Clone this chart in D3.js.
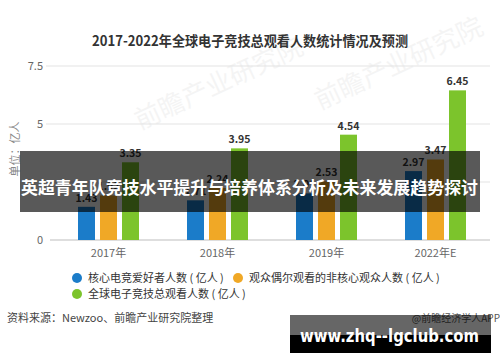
<!DOCTYPE html>
<html>
<head>
<meta charset="utf-8">
<script src="https://cdn.jsdelivr.net/npm/d3@7"></script>
<style>
body{margin:0;background:#fff;}
svg{display:block;font-family:"Noto Sans CJK SC","Noto Sans",sans-serif;}
</style>
</head>
<body>
<svg id="chart" width="500" height="362"></svg>
<script>
// data
const years = ['2017年','2018年','2019年','2022年E'];
const coreFans = [1.43, 1.71, 2.01, 2.97];
const casualViewers = [1.92, 2.24, 2.53, 3.47];
const totalViewers = [3.35, 3.95, 4.54, 6.45];
const seriesNames = ['核心电竞爱好者人数 ( 亿人 )','观众偶尔观看的非核心观众人数 ( 亿人 )','全球电子竞技总观看人数 ( 亿人 )'];
const seriesColors = ['#1b7cc9','#f0a826','#7cc42c'];
const yTicks = [0, 2.5, 5, 7.5];
const yTickText = ['0','','5','7.5'];

const svg = d3.select('#chart');
svg.append('rect').attr('width',500).attr('height',362).attr('fill','#fff');

const x = d3.scaleBand().domain(years).range([54,490]);
const y = d3.scaleLinear().domain([0,7.5]).range([240,66]);
const barW = 17, gap = 22;

svg.append('text').text('2017-2022年全球电子竞技总观看人数统计情况及预测')
  .attr('x',92).attr('y',46).attr('textLength',316).attr('lengthAdjust','spacingAndGlyphs')
  .style('font-size','14px').style('font-weight','bold').attr('fill','#333');

// faint watermark
svg.append('text').text('前瞻产业研究院').attr('transform','translate(140,130) rotate(-25)')
  .style('font-size','26px').attr('fill','#000').attr('opacity',0.04);
svg.append('text').text('前瞻产业研究院').attr('transform','translate(320,110) rotate(-25)')
  .style('font-size','26px').attr('fill','#000').attr('opacity',0.04);

// grid
svg.append('g').selectAll('line').data(yTicks.slice(1)).join('line')
  .attr('x1',46).attr('x2',490).attr('y1',d=>y(d)).attr('y2',d=>y(d))
  .attr('stroke','#e3e3e3').attr('stroke-width',1);
svg.append('line').attr('x1',50).attr('x2',490).attr('y1',y(0)).attr('y2',y(0))
  .attr('stroke','#bdbdbd').attr('stroke-width',1);

svg.append('g').selectAll('text').data(yTicks).join('text')
  .text((d,i)=>yTickText[i]).attr('x',43).attr('y',d=>y(d)+4).attr('text-anchor','end')
  .style('font-size','11px').attr('fill','#666');

svg.append('text').text('单位：亿人').attr('transform','translate(19,149) rotate(-90)')
  .attr('text-anchor','middle').style('font-size','11px').attr('fill','#888');

svg.append('g').selectAll('text').data(years).join('text')
  .text(d=>d).attr('x',d=>x(d)+x.bandwidth()/2).attr('y',257).attr('text-anchor','middle')
  .style('font-size','11px').attr('fill','#666');

const series = [coreFans, casualViewers, totalViewers];
series.forEach((vals,s)=>{
  const g = svg.append('g');
  g.selectAll('rect').data(vals).join('rect')
    .attr('x',(d,i)=>x(years[i])+x.bandwidth()/2 - barW/2 + (s-1)*gap)
    .attr('y',d=>y(d)).attr('width',barW).attr('height',d=>y(0)-y(d))
    .attr('fill',seriesColors[s]);
  g.selectAll('text').data(vals).join('text')
    .text(d=>d.toFixed(2))
    .attr('x',(d,i)=>x(years[i])+x.bandwidth()/2 + (s-1)*gap)
    .attr('y',d=>y(d)-5).attr('text-anchor','middle')
    .style('font-size','10.5px').style('font-weight','bold').attr('fill','#333');
});

// legend
const legendPos = [[77,278],[238,278],[77,294]];
seriesNames.forEach((name,i)=>{
  svg.append('circle').attr('cx',legendPos[i][0]).attr('cy',legendPos[i][1]).attr('r',5).attr('fill',seriesColors[i]);
  svg.append('text').text(name).attr('x',legendPos[i][0]+11).attr('y',legendPos[i][1]+4)
    .style('font-size','11px').attr('fill','#333');
});

svg.append('text').text('资料来源：Newzoo、前瞻产业研究院整理').attr('x',7).attr('y',322)
  .style('font-size','11px').attr('fill','#444');
svg.append('text').text('@前瞻经济学人APP').attr('x',500).attr('y',322).attr('text-anchor','end')
  .style('font-size','10px').attr('fill','#555');

// overlay banners
svg.append('rect').attr('x',20).attr('y',151).attr('width',460).attr('height',61)
  .attr('fill','#000').attr('opacity',0.65);
svg.append('text').text('英超青年队竞技水平提升与培养体系分析及未来发展趋势探讨')
  .attr('x',21).attr('y',194).attr('textLength',457).attr('lengthAdjust','spacingAndGlyphs')
  .style('font-size','17px').style('font-weight','bold').attr('fill','#fff');

svg.append('rect').attr('x',290).attr('y',315).attr('width',201).attr('height',20)
  .attr('fill','#000').attr('opacity',0.6);
svg.append('rect').attr('x',290).attr('y',335).attr('width',201).attr('height',18).attr('fill','#000');
svg.append('text').text('www.zhq--lgclub.com').attr('x',300).attr('y',342)
  .attr('textLength',179).attr('lengthAdjust','spacingAndGlyphs')
  .style('font-size','18px').style('font-weight','bold').attr('fill','#fff')
  .style('font-family','"DejaVu Sans",sans-serif');
</script>
</body>
</html>
